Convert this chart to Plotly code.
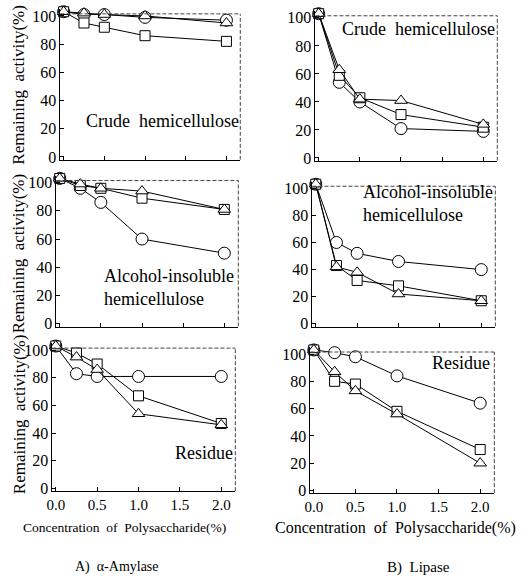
import plotly.graph_objects as go

# ---------------- data ----------------
conc = [0, 0.25, 0.5, 1.0, 2.0]
x_ticks = [0.0, 0.5, 1.0, 1.5, 2.0]
x_tick_labels = ["0.0", "0.5", "1.0", "1.5", "2.0"]
y_ticks = [0, 20, 40, 60, 80, 100]

# A) alpha-Amylase
amy_crude_circle = [103, 101, 101, 99, 97]
amy_crude_square = [103, 95, 92, 86, 82]
amy_crude_triangle = [103, 102, 101, 100, 95]
amy_alc_circle = [103, 96, 86, 60, 50]
amy_alc_square = [103, 98, 96, 89, 81]
amy_alc_triangle = [103, 99, 96, 94, 81]
amy_res_circle = [103, 83, 81, 81, 81]
amy_res_square = [103, 98, 90, 67, 47]
amy_res_triangle = [103, 95, 86, 54, 46]
# B) Lipase
lip_crude_circle = [103, 54, 40, 21, 19]
lip_crude_square = [103, 59, 43, 31, 22]
lip_crude_triangle = [103, 63, 42, 41, 24]
lip_alc_circle = [103, 60, 52, 46, 40]
lip_alc_square = [103, 43, 32, 28, 17]
lip_alc_triangle = [103, 42, 38, 22, 17]
lip_res_circle = [103, 101, 98, 84, 64]
lip_res_square = [103, 80, 78, 58, 30]
lip_res_triangle = [103, 87, 73, 56, 20]

W, H = 523, 586
SERIF = "Liberation Serif"
Y_MIN, Y_MAX, FRAME_TOP = -2, 105, 101.5
X_MIN, X_MAX = -0.04, 2.17


def px(x):
    return x / W


def py(y):
    return 1 - y / H


# panel pixel boxes: left, right, top, bottom
panels = [
    dict(box=(55, 237, 7, 160), series=(amy_crude_circle, amy_crude_square, amy_crude_triangle), xlab=False),
    dict(box=(313, 497, 9, 161), series=(lip_crude_circle, lip_crude_square, lip_crude_triangle), xlab=False),
    dict(box=(51, 235, 176, 329), series=(amy_alc_circle, amy_alc_square, amy_alc_triangle), xlab=False),
    dict(box=(310, 495, 182, 329), series=(lip_alc_circle, lip_alc_square, lip_alc_triangle), xlab=False),
    dict(box=(47, 232, 346, 496), series=(amy_res_circle, amy_res_square, amy_res_triangle), xlab=True),
    dict(box=(308, 494, 350, 498), series=(lip_res_circle, lip_res_square, lip_res_triangle), xlab=True),
]

symbols = [("circle", 12), ("square", 10), ("triangle-up", 11)]

fig = go.Figure()
layout = {}
shapes = []
for i, p in enumerate(panels):
    n = i + 1
    xa = "x" if n == 1 else f"x{n}"
    ya = "y" if n == 1 else f"y{n}"
    xkey = "xaxis" if n == 1 else f"xaxis{n}"
    ykey = "yaxis" if n == 1 else f"yaxis{n}"
    l, r, t, b = p["box"]
    for vals, (sym, size) in zip(p["series"], symbols):
        fig.add_trace(go.Scatter(
            x=conc, y=vals, xaxis=xa, yaxis=ya, mode="lines+markers",
            line=dict(color="black", width=1),
            marker=dict(symbol=sym, size=size, color="white",
                        line=dict(color="black", width=1)),
            cliponaxis=False, showlegend=False, hoverinfo="skip"))
    layout[xkey] = dict(
        domain=[px(l), px(r)], range=[X_MIN, X_MAX], anchor=ya,
        tickvals=x_ticks, ticktext=x_tick_labels if p["xlab"] else [""] * 5,
        showticklabels=p["xlab"], ticks="inside", ticklen=4, tickcolor="black",
        showline=True, linecolor="black", linewidth=1, showgrid=False, zeroline=False,
        tickfont=dict(family=SERIF, size=15, color="black"))
    layout[ykey] = dict(
        domain=[py(b), py(t)], range=[Y_MIN, Y_MAX], anchor=xa,
        tickvals=y_ticks, ticks="inside", ticklen=4, tickcolor="black",
        showline=True, linecolor="black", linewidth=1, showgrid=False, zeroline=False,
        tickfont=dict(family=SERIF, size=16, color="black"))
    xd = "x domain" if n == 1 else f"x{n} domain"
    shapes.append(dict(type="line", xref=xd, yref=ya, x0=0, x1=1, y0=FRAME_TOP, y1=FRAME_TOP,
                       line=dict(color="#444", width=1, dash="4px,2px")))
    shapes.append(dict(type="line", xref=xd, yref=ya, x0=1, x1=1, y0=Y_MIN, y1=FRAME_TOP,
                       line=dict(color="#444", width=1, dash="4px,2px")))

ann = []


def add_text(text, x, y, size=18, xanchor="center", yanchor="middle", angle=0, align="center"):
    ann.append(dict(text=text, x=px(x), y=py(y), xref="paper", yref="paper",
                    showarrow=False, xanchor=xanchor, yanchor=yanchor, textangle=angle,
                    align=align, font=dict(family=SERIF, size=size, color="black")))


add_text("Crude  hemicellulose", 158, 121)
add_text("Crude  hemicellulose", 417, 27)
add_text("Alcohol-insoluble<br>hemicellulose", 97, 289, xanchor="left", align="left")
add_text("Alcohol-insoluble<br>hemicellulose", 359, 204, xanchor="left", align="left")
add_text("Residue", 200, 457)
add_text("Residue", 460, 366)

for yc in (84, 255, 418):
    add_text("Remaining  activity(%)", 13, yc, size=17, angle=-90)

add_text("Concentration  of  Polysaccharide(%)", 120, 533, size=13.5)
add_text("Concentration  of  Polysaccharide(%)", 394, 533, size=16)
add_text("A)  \u03b1-Amylase", 112, 573, size=14)
add_text("B)  Lipase", 417, 573, size=15)

fig.update_layout(
    width=W, height=H, margin=dict(l=0, r=0, t=0, b=0),
    paper_bgcolor="white", plot_bgcolor="white",
    annotations=ann, shapes=shapes, **layout)

fig.write_html("out.html")
